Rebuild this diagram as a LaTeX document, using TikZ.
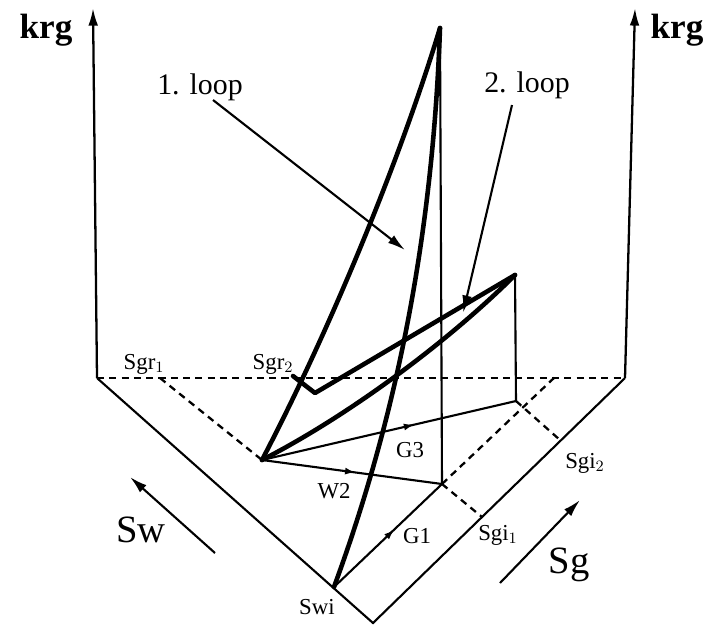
\documentclass[tikz,border=0pt]{standalone}
\usepackage{fontspec}
\setmainfont{Liberation Serif}
\usetikzlibrary{arrows.meta,decorations.markings}

\tikzset{
  axisline/.style={line width=1.3pt, -{Latex[length=10pt,width=5.5pt]}},
  thinline/.style={line width=1.2pt},
  thickline/.style={line width=2.6pt, line join=round, line cap=round},
  gridline/.style={line width=1.3pt, dash pattern=on 4pt off 3pt},
  pointer/.style={line width=1.2pt, -{Latex[length=10pt,width=5.5pt]}},
  midarrow/.style={postaction={decorate,decoration={markings,
      mark=at position #1 with {\arrow{Latex[length=6pt,width=4pt]}}}}},
  lbl/.style={font=\fontsize{13}{13}\selectfont, inner sep=0pt},
  biglbl/.style={font=\fontsize{20}{20}\selectfont\bfseries, inner sep=0pt},
}

\begin{document}
\begin{tikzpicture}[x=0.02cm, y=-0.02cm]
  \useasboundingbox (0,0) rectangle (703,630);
  % base triangle and axes
  \coordinate (O) at (373,623);
  \coordinate (L) at (97,378);
  \coordinate (R) at (625,378);
  \coordinate (Ltop) at (93,8);
  \coordinate (Rtop) at (635,8);
  \draw[axisline] (L) -- (Ltop);
  \draw[axisline] (R) -- (Rtop);
  \draw[thinline] (L) -- (O) -- (R);
  \draw[gridline] (L) -- (R);
  \node[biglbl] (krgL) at (46,30) {krg};
  \node[biglbl] (krgR) at (677,30) {krg};

  % saturation points
  \coordinate (Swi) at (334,587);
  \coordinate (A) at (262,460);
  \coordinate (P1) at (442,484);
  \coordinate (P2) at (516,401);
  \coordinate (peak1) at (440,28);
  \coordinate (peak2) at (515,275);
  \coordinate (sgr1) at (160,378);
  \coordinate (sgr2) at (293,376);
  \coordinate (kink2) at (315,393);
  \coordinate (sgi1) at (482,517);
  \coordinate (sgi2) at (560,440);
  \coordinate (gridend) at (555,377);

  % dashed grid
  \draw[gridline] (sgr1) -- (A);
  \draw[gridline] (P1) -- (gridend);
  \draw[gridline] (P1) -- (sgi1);
  \draw[gridline] (P2) -- (sgi2);

  % paths in the base plane
  \draw[thinline, midarrow=0.56] (Swi) -- (P1);
  \draw[thinline, midarrow=0.52] (A) -- (P1);
  \draw[thinline, midarrow=0.6] (A) -- (P2);
  \draw[thinline] (peak1) -- (P1);
  \draw[thinline] (peak2) -- (P2);

  % relative permeability curves
  \draw[thickline] (Swi) .. controls (388,440) and (432,260) .. (peak1);
  \draw[thickline] (A) .. controls (330,330) and (400,160) .. (peak1);
  \draw[thickline] (A) .. controls (350,415) and (450,340) .. (peak2);
  \draw[thickline] (sgr2) -- (kink2) -- (peak2);

  % labels
  \node[lbl] (lsgr1) at (144,364) {Sgr$_1$};
  \node[lbl] (lsgr2) at (273,364) {Sgr$_2$};
  \node[lbl] (lswi) at (317,607) {Swi};
  \node[lbl] (lsgi1) at (498,535) {Sgi$_1$};
  \node[lbl] (lsgi2) at (585,463) {Sgi$_2$};
  \node[lbl] (lg1) at (417,536) {G1};
  \node[lbl] (lw2) at (334,491) {W2};
  \node[lbl] (lg3) at (410,450) {G3};

  \node[font=\fontsize{17}{17}\selectfont, inner sep=0pt] (loop1) at (200,87) {1. loop};
  \node[font=\fontsize{17}{17}\selectfont, inner sep=0pt] (loop2) at (527,85) {2. loop};
  \coordinate (tip1) at (405,250);
  \coordinate (tip2) at (463,313);
  \draw[pointer] (213,100) -- (tip1);
  \draw[pointer] (512,105) -- (tip2);

  % direction arrows
  \node[font=\fontsize{22}{22}\selectfont, inner sep=0pt] (lsw) at (141,530) {Sw};
  \node[font=\fontsize{22}{22}\selectfont, inner sep=0pt] (lsg) at (569,565) {Sg};
  \coordinate (sw0) at (215,553);
  \coordinate (sw1) at (130,477);
  \coordinate (sg0) at (500,583);
  \coordinate (sg1) at (580,500);
  \draw[pointer] (sw0) -- (sw1);
  \draw[pointer] (sg0) -- (sg1);
\end{tikzpicture}
\end{document}
